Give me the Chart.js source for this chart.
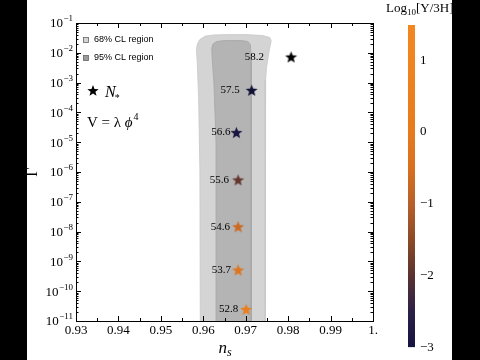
<!DOCTYPE html>
<html>
<head>
<meta charset="utf-8">
<script src="https://cdn.jsdelivr.net/npm/chart.js@4.4.1/dist/chart.umd.min.js"></script>
<style>
  html, body { margin: 0; padding: 0; background: #000; width: 480px; height: 360px; overflow: hidden; }
  .box { position: absolute; top: 0; height: 360px; background: #fff; }
</style>
</head>
<body>
<div class="box" style="left:27px;width:353px"><canvas id="mainChart"></canvas></div>
<div class="box" style="left:380px;width:72px"><canvas id="barChart"></canvas></div>
<script>
// stars: spectral index, Gamma, N_* label, colour value log10(Y/3H)
const nsVals = [0.9807, 0.9714, 0.9678, 0.9682, 0.9682, 0.9682, 0.9701];
const gammaVals = [7.2e-3, 5.5e-4, 2.1e-5, 5.4e-7, 1.45e-8, 5.1e-10, 2.45e-11];
const nStarLabels = ['58.2', '57.5', '56.6', '55.6', '54.6', '53.7', '52.8'];
const logQ = [-3.6, -3.1, -2.9, -1.9, -0.7, -0.3, 0.3];

// CL contours (ns, log10 Gamma)
const outerNs = [0.9593, 0.9592, 0.9589, 0.9586, 0.9584, 0.9586, 0.9592, 0.9605, 0.9625, 0.9660, 0.9700, 0.9740, 0.9757, 0.9760, 0.9755, 0.9749, 0.9747, 0.9746];
const outerLogG = [-11.3, -6, -3.5, -2.4, -1.9, -1.7, -1.55, -1.44, -1.40, -1.39, -1.39, -1.42, -1.49, -1.6, -1.95, -2.5, -2.9, -11.3];
const innerNs = [0.9631, 0.9630, 0.9625, 0.9621, 0.9620, 0.9623, 0.9632, 0.9650, 0.9690, 0.9705, 0.9711, 0.9713, 0.9713];
const innerLogG = [-11.3, -5, -3, -2.2, -1.85, -1.7, -1.62, -1.59, -1.59, -1.62, -1.72, -2.2, -11.3];

const xMin = 0.93, xMax = 1.0;
const yExponents = [-1, -2, -3, -4, -5, -6, -7, -8, -9, -10, -11];
const cbTicks = [1, 0, -1, -2, -3];
const cbMin = -3, cbMax = 1.49;

const cmap = [
    [-3.6, '#000000'], [-3.0, '#141440'], [-2.5, '#2c2048'], [-2.0, '#5a3230'],
    [-1.5, '#8c4a26'], [-1.0, '#b8602a'], [-0.5, '#d8701f'], [0.0, '#e67b1d'],
    [1.0, '#f0841f'], [1.5, '#f28620']
];

const serif = 'Liberation Serif';
const sans = 'Liberation Sans';

const hexRgb = h => [1, 3, 5].map(i => parseInt(h.slice(i, i + 2), 16));
const colorAt = v => {
    if (v <= cmap[0][0]) return cmap[0][1];
    for (let i = 1; i < cmap.length; i++) {
        if (v <= cmap[i][0]) {
            const t = (v - cmap[i - 1][0]) / (cmap[i][0] - cmap[i - 1][0]);
            const a = hexRgb(cmap[i - 1][1]), b = hexRgb(cmap[i][1]);
            return `rgb(${a.map((c, k) => Math.round(c + (b[k] - c) * t)).join(',')})`;
        }
    }
    return cmap[cmap.length - 1][1];
};

const starPath = (g, cx, cy, R, r) => {
    g.beginPath();
    for (let i = 0; i < 10; i++) {
        const a = -Math.PI / 2 + i * Math.PI / 5;
        const rad = i % 2 ? r : R;
        const px = cx + rad * Math.cos(a), py = cy + rad * Math.sin(a);
        i ? g.lineTo(px, py) : g.moveTo(px, py);
    }
    g.closePath();
};

const makeStar = (color, R) => {
    const c = document.createElement('canvas');
    const s = Math.ceil(R * 2 + 2);
    c.width = s; c.height = s;
    const g = c.getContext('2d');
    starPath(g, s / 2, s / 2 + 0.5, R, R * 0.42);
    g.fillStyle = color;
    g.fill();
    return c;
};

window.addEventListener('DOMContentLoaded', () => {

    const starPts = nsVals.map((x, i) => ({ x, y: gammaVals[i] }));
    const outerPts = outerNs.map((x, i) => ({ x, y: 10 ** outerLogG[i] }));
    const innerPts = innerNs.map((x, i) => ({ x, y: 10 ** innerLogG[i] }));
    outerPts.push(outerPts[0]);
    innerPts.push(innerPts[0]);

    // gap between star centre and right end of its label
    const labelGaps = [27, 12, 6, 9, 8, 7, 8];

    const decor = {
        id: 'decor',
        afterDatasetsDraw(chart) {
            const { ctx } = chart;
            const meta = chart.getDatasetMeta(0);
            ctx.save();
            // star labels
            ctx.fillStyle = '#000';
            ctx.font = `11px "${serif}"`;
            ctx.textAlign = 'right';
            ctx.textBaseline = 'middle';
            meta.data.forEach((p, i) => ctx.fillText(nStarLabels[i], p.x - labelGaps[i], p.y));
            ctx.restore();
        },
        afterDraw(chart) {
            const { ctx, chartArea: a, scales: { x, y } } = chart;
            ctx.save();
            ctx.strokeStyle = '#000';
            ctx.lineWidth = 1;
            ctx.strokeRect(a.left + 0.5, a.top + 0.5, a.right - a.left, a.bottom - a.top);

            ctx.beginPath();
            // x ticks, top and bottom, pointing in
            for (let i = 0; i <= 14; i++) {
                const px = Math.round(x.getPixelForValue(xMin + i * 0.005)) + 0.5;
                const len = i % 2 ? 3 : 5;
                ctx.moveTo(px, a.bottom); ctx.lineTo(px, a.bottom - len);
                ctx.moveTo(px, a.top); ctx.lineTo(px, a.top + len);
            }
            // y ticks, log major and minor
            yExponents.forEach(k => {
                for (let m = 1; m <= 9; m++) {
                    if (k === -1 && m > 1) continue;
                    const py = Math.round(y.getPixelForValue(m * 10 ** k)) + 0.5;
                    const len = m === 1 ? 5 : 2.5;
                    ctx.moveTo(a.left, py); ctx.lineTo(a.left + len, py);
                    ctx.moveTo(a.right, py); ctx.lineTo(a.right - len, py);
                }
            });
            ctx.stroke();

            // y tick labels 10^k
            ctx.fillStyle = '#000';
            ctx.textBaseline = 'middle';
            ctx.textAlign = 'right';
            yExponents.forEach(k => {
                const py = y.getPixelForValue(10 ** k);
                const ex = '\u2212' + Math.abs(k);
                const xr = a.left - 3;
                ctx.font = `9px "${serif}"`;
                const w = ctx.measureText(ex).width;
                ctx.fillText(ex, xr, py - 4);
                ctx.font = `13px "${serif}"`;
                ctx.fillText('10', xr - w - 0.5, py + 1);
            });

            // axis titles
            ctx.textAlign = 'left';
            ctx.textBaseline = 'alphabetic';
            const cx = (a.left + a.right) / 2 - 6;
            ctx.font = `italic 17px "${serif}"`;
            ctx.fillText('n', cx, 353);
            const nw = ctx.measureText('n').width;
            ctx.font = `italic 12px "${serif}"`;
            ctx.fillText('s', cx + nw, 356);

            ctx.save();
            ctx.translate(6, (a.top + a.bottom) / 2);
            ctx.rotate(-Math.PI / 2);
            ctx.textAlign = 'center';
            ctx.textBaseline = 'middle';
            ctx.font = `16px "${serif}"`;
            ctx.fillText('\u0393', 0, 0);
            ctx.restore();

            // legend
            const lx = a.left + 10, ly1 = a.top + 17, ly2 = a.top + 35;
            ctx.lineWidth = 0.8;
            ctx.strokeStyle = '#666';
            ctx.fillStyle = '#d4d4d4';
            ctx.fillRect(lx - 2.5, ly1 - 2.5, 5, 5);
            ctx.strokeRect(lx - 2.5, ly1 - 2.5, 5, 5);
            ctx.fillStyle = '#9a9a9a';
            ctx.fillRect(lx - 2.5, ly2 - 2.5, 5, 5);
            ctx.strokeRect(lx - 2.5, ly2 - 2.5, 5, 5);
            ctx.fillStyle = '#000';
            ctx.font = `9px "${sans}"`;
            ctx.textBaseline = 'middle';
            ctx.fillText('68% CL region', lx + 8, ly1);
            ctx.fillText('95% CL region', lx + 8, ly2);

            // N_* key
            starPath(ctx, a.left + 17, a.top + 68, 6, 2.5);
            ctx.fill();
            ctx.font = `italic 16px "${serif}"`;
            ctx.textBaseline = 'alphabetic';
            ctx.fillText('N', a.left + 29, a.top + 74);
            const Nw = ctx.measureText('N').width;
            ctx.font = `10px "${serif}"`;
            ctx.fillText('*', a.left + 29 + Nw - 1, a.top + 78);

            // potential
            let vx = a.left + 11;
            const vy = a.top + 104;
            ctx.font = `15px "${serif}"`;
            ctx.fillText('V = \u03bb ', vx, vy);
            vx += ctx.measureText('V = \u03bb ').width;
            ctx.font = `italic 15px "${serif}"`;
            ctx.fillText('\u03d5', vx, vy);
            vx += ctx.measureText('\u03d5').width + 1;
            ctx.font = `10px "${serif}"`;
            ctx.fillText('4', vx, vy - 7);
            ctx.restore();
        }
    };

    new Chart(document.getElementById('mainChart'), {
        type: 'scatter',
        data: {
            datasets: [
                {
                    label: 'N*',
                    data: starPts,
                    pointStyle: logQ.map(v => makeStar(colorAt(v), 6.3)),
                    pointRadius: 6
                },
                {
                    label: '95% CL region',
                    data: innerPts,
                    showLine: true,
                    fill: 'shape',
                    backgroundColor: '#b4b4b4',
                    borderColor: '#a6a6a6',
                    borderWidth: 0.8,
                    pointRadius: 0,
                    tension: 0
                },
                {
                    label: '68% CL region',
                    data: outerPts,
                    showLine: true,
                    fill: 'shape',
                    backgroundColor: '#d4d4d4',
                    borderColor: '#c8c8c8',
                    borderWidth: 0.8,
                    pointRadius: 0,
                    tension: 0
                }
            ]
        },
        options: {
            responsive: true,
            maintainAspectRatio: false,
            animation: false,
            layout: { padding: { top: 23, right: 4, left: 0, bottom: 0 } },
            plugins: { legend: { display: false }, tooltip: { enabled: false } },
            scales: {
                x: {
                    type: 'linear',
                    min: xMin,
                    max: xMax,
                    afterFit: s => { s.height = 39; },
                    grid: { display: false, drawTicks: false },
                    border: { display: false },
                    ticks: {
                        stepSize: 0.01,
                        padding: 2,
                        color: '#000',
                        font: { family: serif, size: 13 },
                        callback: v => Math.abs(v - 1) < 1e-9 ? '1.' : v.toFixed(2)
                    }
                },
                y: {
                    type: 'logarithmic',
                    min: 1e-11,
                    max: 1e-1,
                    afterFit: s => { s.width = 49; },
                    grid: { display: false, drawTicks: false },
                    border: { display: false },
                    ticks: { display: false }
                }
            }
        },
        plugins: [decor]
    });

    const cbTitle = {
        id: 'cbTitle',
        afterDraw(chart) {
            const { ctx } = chart;
            ctx.save();
            ctx.fillStyle = '#000';
            ctx.textBaseline = 'alphabetic';
            let tx = 6;
            ctx.font = `13px "${serif}"`;
            ctx.fillText('Log', tx, 12);
            tx += ctx.measureText('Log').width;
            ctx.font = `9px "${serif}"`;
            ctx.fillText('10', tx, 15);
            tx += ctx.measureText('10').width;
            ctx.font = `13px "${serif}"`;
            ctx.fillText('[Y/3H]', tx, 12);
            ctx.restore();
        }
    };

    new Chart(document.getElementById('barChart'), {
        type: 'bar',
        data: {
            labels: [''],
            datasets: [{
                data: [[cbMin, cbMax]],
                barPercentage: 1,
                categoryPercentage: 1,
                borderWidth: 0,
                backgroundColor: c => {
                    const ch = c.chart;
                    if (!ch.chartArea) return colorAt(0);
                    const ys = ch.scales.y;
                    const g = ch.ctx.createLinearGradient(0, ys.getPixelForValue(cbMin), 0, ys.getPixelForValue(cbMax));
                    cmap.forEach(([v, col]) => {
                        if (v >= cbMin && v <= cbMax) g.addColorStop((v - cbMin) / (cbMax - cbMin), col);
                    });
                    g.addColorStop(1, colorAt(cbMax));
                    return g;
                }
            }]
        },
        options: {
            responsive: true,
            maintainAspectRatio: false,
            animation: false,
            layout: { padding: { left: 28, top: 25, bottom: 3, right: 0 } },
            plugins: { legend: { display: false }, tooltip: { enabled: false } },
            scales: {
                x: { display: false },
                y: {
                    position: 'right',
                    min: cbMin,
                    max: cbMax,
                    afterBuildTicks: s => { s.ticks = cbTicks.map(value => ({ value })); },
                    afterFit: s => { s.width = 37; },
                    grid: { display: false, drawTicks: false },
                    border: { display: false },
                    ticks: {
                        padding: 5,
                        color: '#000',
                        font: { family: serif, size: 13 },
                        callback: v => v < 0 ? '\u2212' + Math.abs(v) : String(v)
                    }
                }
            }
        },
        plugins: [cbTitle]
    });
});
</script>
</body>
</html>
